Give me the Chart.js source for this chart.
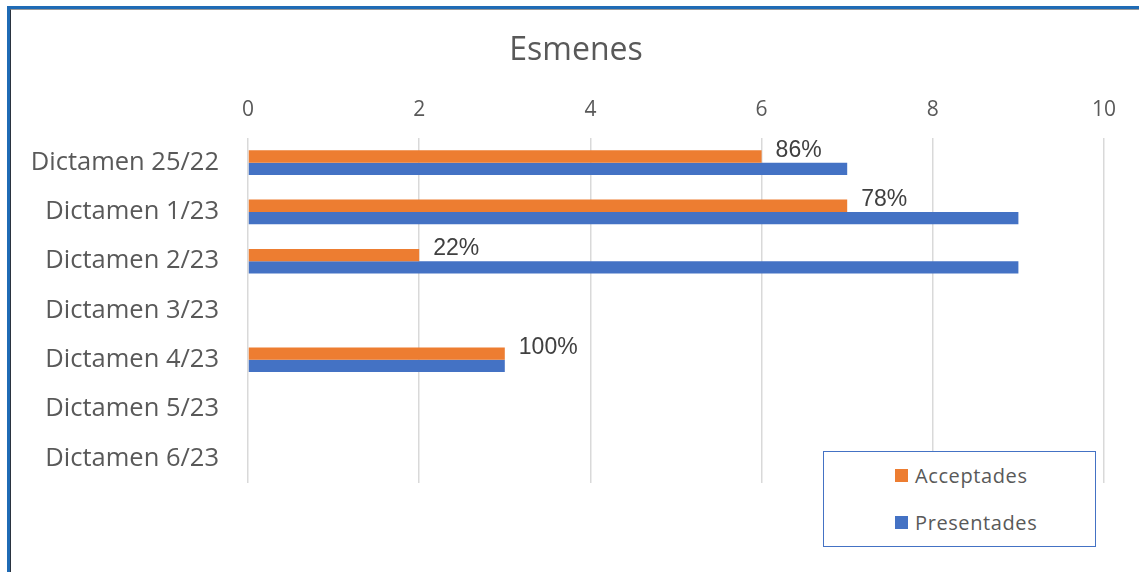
<!DOCTYPE html>
<html>
<head>
<meta charset="utf-8">
<script src="https://cdn.jsdelivr.net/npm/chart.js@4.4.0/dist/chart.umd.min.js"></script>
<style>
	html, body { margin: 0; padding: 0; background: #fff; }
	#wrap { position: relative; width: 1139px; height: 572px; overflow: hidden; }
	#chart { position: absolute; left: 0; top: 0; }
	.frame-blue { position: absolute; left: 7px; top: 6px; width: 1200px; height: 700px;
		border-left: 3px solid #1f6bb5; border-top: 3px solid #1f6bb5; pointer-events: none; }
	.frame-dark { position: absolute; left: 10px; top: 9px; width: 1200px; height: 700px;
		border-left: 1px solid #2b3440; border-top: 1px solid #9a9a9a; pointer-events: none; }
	#legend { position: absolute; left: 823px; top: 451px; width: 273px; height: 96px;
		box-sizing: border-box; border: 1.5px solid #4472c4; background: #fff; }
	#legend .item { position: absolute; left: 71px; height: 26px; display: flex; align-items: center;
		font-family: 'Open Sans', sans-serif; font-size: 20px; color: #595959; letter-spacing: 0.6px; }
	#legend .box { width: 13px; height: 13px; margin-right: 7px; }
</style>
</head>
<body>
<div id="wrap">
	<canvas id="chart" width="1139" height="572"></canvas>
	<div class="frame-blue"></div>
	<div class="frame-dark"></div>
	<div id="legend"></div>
</div>
<script>
	'use strict';

	/* =========== Data ================= */
	var chartTitle = 'Esmenes';
	var categories = ['Dictamen 25/22', 'Dictamen 1/23', 'Dictamen 2/23', 'Dictamen 3/23',
		'Dictamen 4/23', 'Dictamen 5/23', 'Dictamen 6/23'];
	var acceptades = [6, 7, 2, null, 3, null, null];
	var presentades = [7, 9, 9, null, 3, null, null];
	var percentLabels = ['86%', '78%', '22%', null, '100%', null, null];
	var xTicks = [0, 2, 4, 6, 8, 10];
	/* ------------------------------------------------ */

	/* =========== Title (centred on the whole frame, not the plot) ================= */
	var frameTitle = {
		id: 'frameTitle',
		afterDraw: function (chart) {
			var ctx = chart.ctx;
			ctx.save();
			ctx.font = "32px 'Open Sans', sans-serif";
			ctx.fillStyle = '#595959';
			ctx.textAlign = 'center';
			ctx.textBaseline = 'middle';
			ctx.fillText(chartTitle, 576, 51);
			ctx.restore();
		}
	};

	/* =========== Labels after the orange bars ================= */
	var barLabels = {
		id: 'barLabels',
		afterDatasetsDraw: function (chart) {
			var ctx = chart.ctx;
			var meta = chart.getDatasetMeta(0);
			ctx.save();
			ctx.font = '23px "Liberation Sans", Arial, sans-serif';
			ctx.fillStyle = '#404040';
			ctx.textAlign = 'left';
			ctx.textBaseline = 'middle';
			meta.data.forEach(function (bar, i) {
				if (percentLabels[i] == null) return;
				ctx.fillText(percentLabels[i], bar.x + 14, bar.y - 6);
			});
			ctx.restore();
		}
	};

	var chart = new Chart(document.getElementById('chart'), {
		type: 'bar',
		data: {
			labels: categories,
			datasets: [{
				label: 'Acceptades',
				data: acceptades,
				backgroundColor: '#ED7D31',
				categoryPercentage: 0.5,
				barPercentage: 1
			}, {
				label: 'Presentades',
				data: presentades,
				backgroundColor: '#4472C4',
				categoryPercentage: 0.5,
				barPercentage: 1
			}]
		},
		options: {
			indexAxis: 'y',
			responsive: false,
			animation: false,
			layout: { padding: { left: 0, right: 35, top: 70.4, bottom: 89 } },
			plugins: {
				legend: { display: false },
				tooltip: { enabled: false },
				title: { display: false }
			},
			scales: {
				x: {
					position: 'top',
					min: 0,
					max: 10,
					afterBuildTicks: function (s) {
						s.ticks = xTicks.map(function (v) { return { value: v }; });
					},
					afterFit: function (s) { s.height = 67.6; },
					ticks: {
						color: '#595959',
						padding: 15,
						font: { family: "'Open Sans', sans-serif", size: 21 }
					},
					grid: { color: '#d9d9d9', lineWidth: 1.5, drawTicks: false },
					border: { display: false }
				},
				y: {
					afterFit: function (s) { s.width = 248; },
					ticks: {
						color: '#595959',
						padding: 21,
						font: { family: "'Open Sans', sans-serif", size: 25.5 }
					},
					grid: { display: false },
					border: { display: false }
				}
			}
		},
		plugins: [barLabels, frameTitle]
	});

	/* =========== Legend box ================= */
	var legend = document.getElementById('legend');
	var itemTops = [10, 57];
	chart.data.datasets.forEach(function (ds, i) {
		var item = document.createElement('div');
		item.className = 'item';
		item.style.top = itemTops[i] + 'px';
		item.innerHTML = '<span class="box" style="background:' + ds.backgroundColor + '"></span>' + ds.label;
		legend.appendChild(item);
	});
	/* ------------------------------------------------ */
</script>
</body>
</html>
